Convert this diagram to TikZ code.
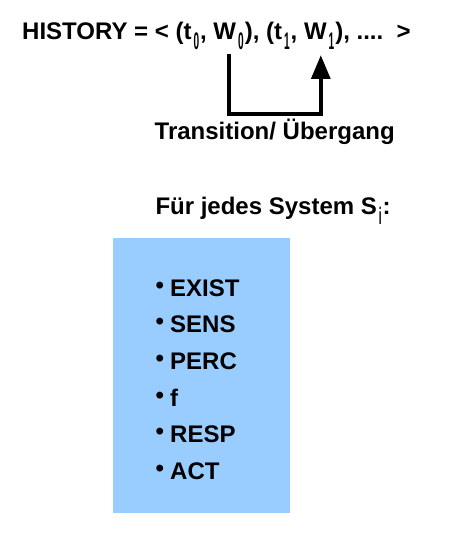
\documentclass[tikz,border=0pt]{standalone}
\usepackage{graphicx}
\usepackage{fontspec}
\setmainfont{Liberation Sans}
\usetikzlibrary{arrows.meta,positioning}
\definecolor{boxblue}{RGB}{153,204,255}
\newcommand{\lowsub}[1]{\hspace{2pt}\raisebox{-10pt}{\scalebox{0.42}[1]{#1}}\hspace{1pt}}
\newcommand{\itembullet}{\raisebox{3pt}{•}\hspace{6.2pt}}

\begin{document}
\begin{tikzpicture}[x=1pt, y=1pt,
    txt/.style={inner sep=0pt, anchor=base west, font=\fontsize{24}{28}\selectfont\bfseries},
    flow/.style={line width=4.5pt, -{Triangle[length=24pt,width=18.5pt]}}
  ]
    \useasboundingbox (0,0) rectangle (458,545);

    % History line
    \node[txt] (history) at (22,505)
      {HISTORY = < (t\lowsub{0}, W\lowsub{0}), (t\lowsub{1}, W\lowsub{1}), ....\ \ >};

    % Transition bracket
    \coordinate (w0) at (229.2,491);
    \coordinate (turn) at (229.2,431);
    \coordinate (w1) at (320.8,490);
    \draw[flow] (w0) -- (turn) -| (w1);
    \node[txt] (trans) at (154.5,405) {Transition/ Übergang};

    % System box
    \node[txt] (fuer) at (155.3,330) {Für jedes System S\lowsub{i}:};
    \fill[boxblue] (113.3,32.3) rectangle (290,306.7);
    \foreach \name/\y in {EXIST/248, SENS/212, PERC/175, f/138, RESP/102, ACT/65}
      \node[txt] (item-\name) at (155.4,\y) {\itembullet\name};
  \end{tikzpicture}
\end{document}
